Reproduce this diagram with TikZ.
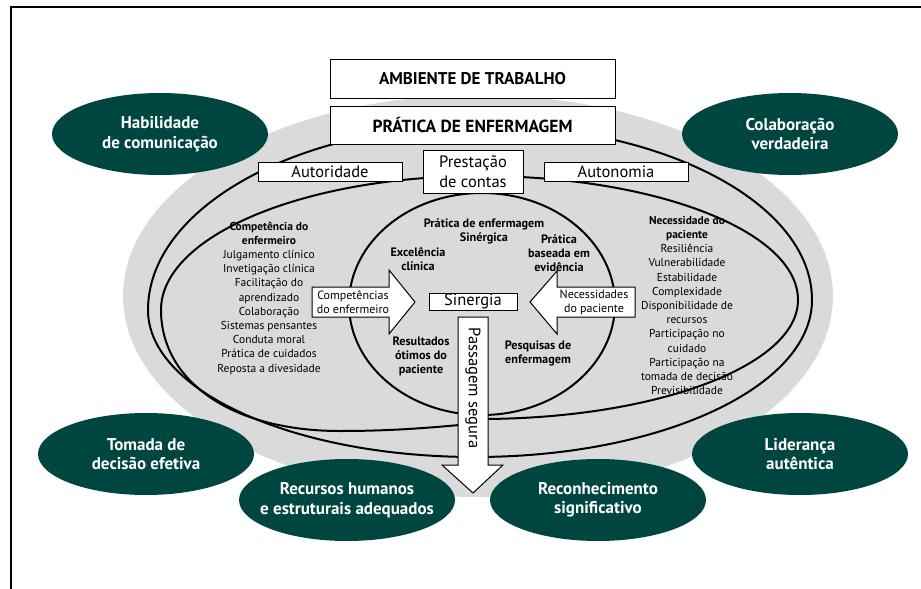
\documentclass[tikz,border=0pt]{standalone}
\usepackage{fontspec}
\setmainfont{PT Sans}
\usetikzlibrary{shapes.geometric}
\definecolor{darkteal}{RGB}{0,70,64}
\definecolor{halogray}{RGB}{218,218,218}

\begin{document}
\begin{tikzpicture}[x=1pt, y=-1pt,
    greenoval/.style={ellipse, fill=darkteal, text=white, minimum width=216pt, minimum height=82pt,
        inner sep=-16pt, align=center, font=\bfseries\fontsize{17}{19.5}\selectfont},
    labelbox/.style={draw, fill=white, line width=1pt, inner sep=0pt, align=center,
        font=\fontsize{16.5}{20}\selectfont},
    loopline/.style={line width=2pt},
    blockarrow/.style={draw, fill=white, line width=1pt, line join=miter},
    listtext/.style={align=center, font=\fontsize{11.5}{14.2}\selectfont},
    boldtext/.style={align=center, font=\bfseries\fontsize{12.2}{14}\selectfont}]

    \useasboundingbox (0,0) rectangle (921,589);

    % Draw the frame
    \draw[line width=2.5pt] (11,620) -- (11,7) -- (950,7);

    % Draw the gray halo
    \fill[halogray] (478,296) ellipse [x radius=355, y radius=201];

    % Draw the three loops
    \draw[loopline] (148,310) .. controls (148,208) and (297,125) .. (480,125)
        .. controls (663,125) and (812,203) .. (812,300)
        .. controls (812,387) and (661,457) .. (475,457)
        .. controls (294,457) and (148,391) .. (148,310);
    \draw[loopline] (480,423) .. controls (430,428) and (390,431) .. (340,431)
        .. controls (230,431) and (161,380) .. (161,310)
        .. controls (161,236) and (304,176) .. (480,176)
        .. controls (655,176) and (798,231) .. (798,300)
        .. controls (798,366) and (655,419) .. (480,419);
    \draw[loopline] (482,304) ellipse [x radius=133, y radius=111];

    % Draw the boxes on top
    \node[labelbox, minimum width=285pt, minimum height=39pt, font=\bfseries\fontsize{17}{18}\selectfont]
        (ambiente) at (472.5,78.5) {AMBIENTE DE TRABALHO};
    \node[labelbox, minimum width=285pt, minimum height=38pt, font=\bfseries\fontsize{17.5}{19}\selectfont]
        (pratica) at (472.5,125) {PRÁTICA DE ENFERMAGEM};
    \node[labelbox, minimum width=144pt, minimum height=19pt] (autoridade) at (330,171.5) {Autoridade};
    \node[labelbox, minimum width=100pt, minimum height=43pt] (prestacao) at (473,171.5) {Prestação\\de contas};
    \node[labelbox, minimum width=144pt, minimum height=19pt] (autonomia) at (616,171.5) {Autonomia};

    % Nurse and patient columns
    \node[listtext] (enfermeiro) at (269,298) {\textbf{Competência do}\\\textbf{enfermeiro}\\Julgamento clínico\\
        Invetigação clínica\\Facilitação do\\aprendizado\\Colaboração\\Sistemas pensantes\\
        Conduta moral\\Prática de cuidados\\Reposta a divesidade};
    \node[listtext] (paciente) at (687,305.5) {\textbf{Necessidade do}\\\textbf{paciente}\\Resiliência\\
        Vulnerabilidade\\Estabilidade\\Complexidade\\Disponibilidade de\\recursos\\
        Participação no\\cuidado\\Participação na\\tomada de decisão\\Previsibilidade};

    % Labels inside the synergy loop
    \node[boldtext] (sinergica) at (484,231) {Prática de enfermagem\\Sinérgica};
    \node[boldtext] (excelencia) at (418,259) {Excelência\\clínica};
    \node[boldtext] (evidencia) at (559,253) {Prática\\baseada em\\evidência};
    \node[boldtext] (resultados) at (421,356) {Resultados\\ótimos do\\paciente};
    \node[boldtext] (pesquisas) at (538,353) {Pesquisas de\\enfermagem};

    % Block arrows
    \draw[blockarrow] (312,287) -- (389,287) -- (389,270) -- (415,302) -- (389,334) -- (389,317) -- (312,317) -- cycle;
    \draw[blockarrow] (635,287) -- (557,287) -- (557,271) -- (530,302) -- (557,334) -- (557,317) -- (635,317) -- cycle;
    \draw[blockarrow] (458,317) -- (488,317) -- (488,465) -- (503,465) -- (473,493) -- (442,465) -- (458,465) -- cycle;
    \node[listtext, font=\fontsize{12}{14}\selectfont] (competencias) at (353,302) {Competências\\do enfermeiro};
    \node[listtext, font=\fontsize{12}{14}\selectfont] (necessidades) at (594,302) {Necessidades\\do paciente};
    \node[labelbox, minimum width=88pt, minimum height=17pt] (sinergia) at (473,301.5) {Sinergia};
    \node[rotate=-90, font=\fontsize{16.5}{18}\selectfont] (passagem) at (473,388) {Passagem segura};

    % Green ovals around the halo
    \foreach \n/\x/\y/\t in {habilidade/160/134/Habilidade\\de comunicação,
            colaboracao/790/134/Colaboração\\verdadeira,
            tomada/146/454/Tomada de\\decisão efetiva,
            recursos/347/500/Recursos humanos\\e estruturais adequados,
            reconhecimento/598/500/Reconhecimento\\significativo,
            lideranca/800/454/Liderança\\autêntica} {
            \node[greenoval] (\n) at (\x,\y) {\t};
        }
\end{tikzpicture}
\end{document}
